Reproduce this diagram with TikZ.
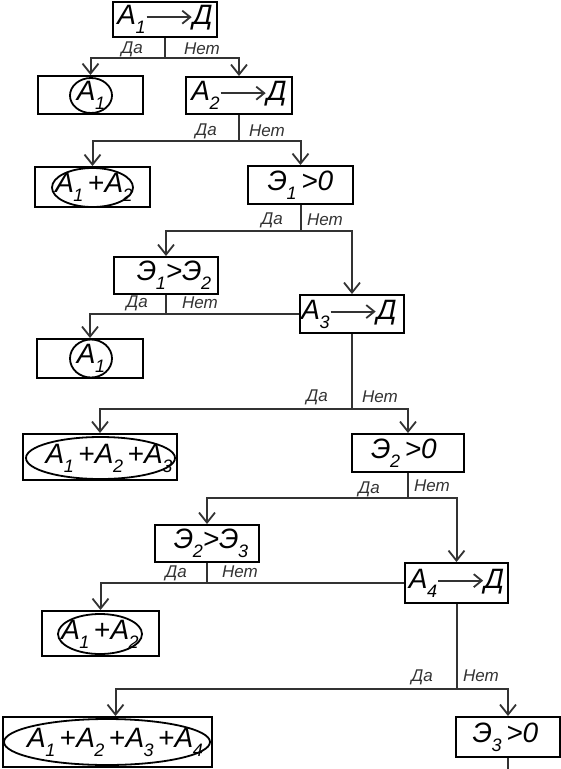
\documentclass[tikz,border=0pt]{standalone}
\usepackage{fontspec}
\setmainfont{Liberation Sans}
\usetikzlibrary{arrows.meta,shapes.geometric,calc}

\definecolor{chartline}{HTML}{333333}

\tikzset{
  inarr/.style={draw=chartline, line width=2pt,
    -{Straight Barb[length=8pt,width=13pt,line width=1.8pt]}},
}

\newcommand{\lowidx}[1]{\raisebox{-0.32em}{\fontsize{18}{18}\selectfont\textit{#1}}}
\newcommand{\Av}[1]{\textit{A}\kern-0.5pt\lowidx{#1}}
\newcommand{\Ev}[1]{\textit{Э}\kern-0.5pt\lowidx{#1}}
\newcommand{\toD}{\tikz[baseline=0pt]\draw[inarr] (0pt,7.5pt) -- (45pt,7.5pt);}

\begin{document}
\begin{tikzpicture}[
    x=1pt, y=-1pt,
    box/.style={rectangle, draw=black, line width=2pt, inner sep=0pt,
      font=\fontsize{28}{28}\selectfont},
    oval/.style={ellipse, draw=black, line width=1.8pt, inner sep=0pt},
    txt/.style={inner sep=0pt, font=\fontsize{28}{28}\selectfont},
    wire/.style={draw=chartline, line width=2pt},
    arr/.style={wire, -{Straight Barb[length=10pt,width=16pt,line width=1.8pt]}},
    lbl/.style={font=\fontsize{17}{17}\selectfont\itshape, inner sep=0pt, text=chartline},
  ]
  \useasboundingbox (0,0) rectangle (561,769);

  % ---- decision boxes
  \node[box, minimum width=104pt, minimum height=35pt] (b1) at (165,19.5) {\Av{1}\toD\textit{Д}};
  \node[box, minimum width=106pt, minimum height=37pt] (b3) at (239,95.5) {\Av{2}\toD\textit{Д}};
  \node[box, minimum width=105pt, minimum height=38pt] (b5) at (300.5,185) {\Ev{1}\,\textit{>0}};
  \node[box, minimum width=104pt, minimum height=37pt] (b6) at (166,275.5) {\hspace*{16pt}\Ev{1}\textit{>}\Ev{2}};
  \node[box, minimum width=104pt, minimum height=38pt] (b7) at (352,314) {\Av{3}\toD\textit{Д}\hspace*{6pt}};
  \node[box, minimum width=112pt, minimum height=38pt] (b10) at (408,453) {\Ev{2}\,\textit{>0}\hspace*{8pt}};
  \node[box, minimum width=104pt, minimum height=37pt] (b11) at (207,543.5) {\hspace*{8pt}\Ev{2}\textit{>}\Ev{3}};
  \node[box, minimum width=103pt, minimum height=40pt] (b12) at (456.5,583) {\Av{4}\toD\textit{Д}};
  \node[box, minimum width=104pt, minimum height=40pt] (b15) at (508,737) {\Ev{3}\,\textit{>0}\hspace*{5pt}};

  % ---- result boxes, the oval and then its sum
  \node[box, minimum width=105pt, minimum height=38pt] (b2) at (90.5,95) {};
  \node[oval, minimum width=42pt, minimum height=35pt] (e2) at (91,95.5) {};
  \node[txt] (t2) at (91,95.5) {\Av{1}};
  \node[box, minimum width=115pt, minimum height=40pt] (b4) at (92.5,187) {};
  \node[oval, minimum width=81pt, minimum height=39pt] (e4) at (92.5,187.5) {};
  \node[txt] (t4) at (94,187.5) {\Av{1}\,+\Av{2}};
  \node[box, minimum width=106pt, minimum height=39pt] (b8) at (90,358.5) {};
  \node[oval, minimum width=42pt, minimum height=38pt] (e8) at (91,358.5) {};
  \node[txt] (t8) at (91,358.5) {\Av{1}};
  \node[box, minimum width=154pt, minimum height=46pt] (b9) at (100,457) {};
  \node[oval, minimum width=149pt, minimum height=42pt] (e9) at (100.5,458) {};
  \node[txt] (t9) at (109,458) {\Av{1}\,+\Av{2}\,+\Av{3}};
  \node[box, minimum width=117pt, minimum height=45pt] (b13) at (100.5,633.5) {};
  \node[oval, minimum width=84pt, minimum height=40pt] (e13) at (100,634) {};
  \node[txt] (t13) at (100,634) {\Av{1}\,+\Av{2}};
  \node[box, minimum width=209pt, minimum height=50pt] (b14) at (107.5,742) {};
  \node[oval, minimum width=206pt, minimum height=46pt] (e14) at (107,742) {};
  \node[txt] (t14) at (115,742) {\Av{1}\,+\Av{2}\,+\Av{3}\,+\Av{4}};

  % ---- branches
  \draw[wire] (b1.south) -- ++(0,20) coordinate (j1);
  \draw[arr] (j1) -| (b2.north);
  \draw[arr] (j1) -| (b3.north);

  \draw[wire] (b3.south) -- ++(0,26) coordinate (j3);
  \draw[arr] (j3) -| (b4.north);
  \draw[arr] (j3) -| (b5.north);

  \draw[wire] (b5.south) -- ++(0,26) coordinate (j5);
  \draw[arr] (j5) -| (b6.north);
  \draw[arr] (j5) -| (b7.north);

  \draw[wire] (b6.south) -- (b6.south |- b7.west) coordinate (j6);
  \draw[arr] (j6) -| (b8.north);
  \draw[wire] (j6) -- (b7.west);

  \draw[wire] (b7.south) -- ++(0,75) coordinate (j7);
  \draw[arr] (j7) -| (b9.north);
  \draw[arr] (j7) -| (b10.north);

  \draw[wire] (b10.south) -- ++(0,25) coordinate (j10);
  \draw[arr] (j10) -| (b11.north);
  \draw[arr] (j10) -| (b12.north);

  \draw[wire] (b11.south) -- (b11.south |- b12.west) coordinate (j11);
  \draw[arr] (j11) -| (b13.north);
  \draw[wire] (j11) -- (b12.west);

  \draw[wire] (b12.south) -- ++(0,85) coordinate (j12);
  \draw[arr] (j12) -| ($(b14.north)+(8,0)$);
  \draw[arr] (j12) -| (b15.north);

  \draw[wire] (b15.south) -- ++(0,13) coordinate (tail);

  % ---- yes / no labels
  \foreach \x/\y/\t [count=\i] in {%
      132/49/Да, 202/49/Нет,
      206/131/Да, 267/131/Нет,
      272/220/Да, 325/220/Нет,
      137/303/Да, 200/303/Нет,
      317/397/Да, 380/397/Нет,
      369/489/Да, 432/486/Нет,
      176/573/Да, 240/572/Нет,
      422/677/Да, 481/676/Нет} {
    \node[lbl] (lab\i) at (\x,\y) {\t};
  }

\end{tikzpicture}
\end{document}
